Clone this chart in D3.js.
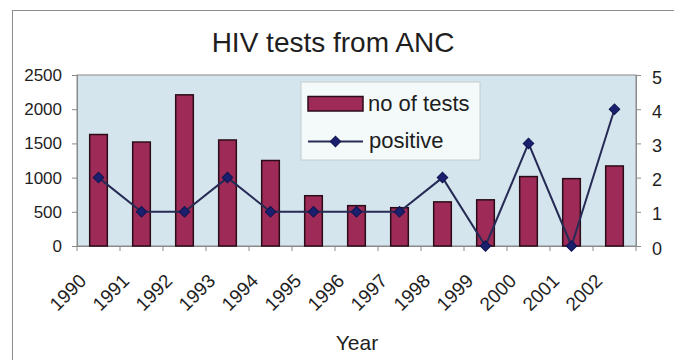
<!DOCTYPE html>
<html>
<head>
<meta charset="utf-8">
<script src="https://cdn.jsdelivr.net/npm/d3@7"></script>
<style>
  html, body { margin: 0; padding: 0; background: #ffffff; }
  svg { display: block; }
  text { font-family: Arial, "Liberation Sans", sans-serif; fill: #1e1e1e; }
</style>
</head>
<body>
<svg id="chart" width="674" height="360"></svg>
<script>
// HIV tests performed at antenatal clinics, with the number of positive results
const years = ["1990", "1991", "1992", "1993", "1994", "1995", "1996",
               "1997", "1998", "1999", "2000", "2001", "2002"];
const tests = [1630, 1520, 2210, 1550, 1250, 735, 590, 560, 645, 675, 1015, 985, 1170];
const positive = [2, 1, 1, 2, 1, 1, 1, 1, 2, 0, 3, 0, 4];
const testTicks = [0, 500, 1000, 1500, 2000, 2500];
const positiveTicks = [0, 1, 2, 3, 4, 5];

const svg = d3.select("#chart");
const plot = { left: 77, right: 636, top: 75, bottom: 246 };
const font = "Arial, 'Liberation Sans', sans-serif";

// outer chart frame
svg.append("rect")
  .attr("x", 12.5).attr("y", 10.5)
  .attr("width", 700).attr("height", 400)
  .attr("fill", "#ffffff").attr("stroke", "#8c8c8c").attr("stroke-width", 1);

// title
svg.append("text")
  .attr("x", 333).attr("y", 52)
  .attr("text-anchor", "middle")
  .style("font-size", "28px")
  .text("HIV tests from ANC");

const x = d3.scaleBand().domain(years).range([plot.left, plot.right]).padding(0);
const yL = d3.scaleLinear().domain([0, 2500]).range([plot.bottom, plot.top]);
const yR = d3.scaleLinear().domain([0, 5]).range([plot.bottom, plot.top]);
const cx = d => x(d) + x.bandwidth() / 2;
const barW = x.bandwidth() * 0.41;

// plot area
svg.append("rect")
  .attr("x", plot.left).attr("y", plot.top)
  .attr("width", plot.right - plot.left).attr("height", plot.bottom - plot.top)
  .attr("fill", "#d5e5ee").attr("stroke", "#8a8a8a").attr("stroke-width", 1);

// left axis
const leftAxis = svg.append("g")
  .attr("transform", `translate(${plot.left},0)`)
  .call(d3.axisLeft(yL).tickValues(testTicks).tickFormat(d3.format("d")).tickSize(5).tickPadding(10));
leftAxis.select(".domain").attr("stroke", "#8a8a8a");
leftAxis.selectAll(".tick line").attr("stroke", "#8a8a8a");
leftAxis.selectAll(".tick text")
  .style("font-size", "17px").style("font-family", font)
  .attr("fill", "#2a2a2a");

// right axis
const rightAxis = svg.append("g")
  .attr("transform", `translate(${plot.right},0)`)
  .call(d3.axisRight(yR).tickValues(positiveTicks).tickFormat(d3.format("d")).tickSize(5).tickPadding(11));
rightAxis.select(".domain").attr("stroke", "#8a8a8a");
rightAxis.selectAll(".tick line").attr("stroke", "#8a8a8a");
rightAxis.selectAll(".tick text")
  .style("font-size", "18px").style("font-family", font)
  .attr("fill", "#2a2a2a").attr("dy", "0.45em");

// bottom axis: ticks sit between categories
const bottom = svg.append("g");
bottom.append("line")
  .attr("x1", plot.left).attr("x2", plot.right)
  .attr("y1", plot.bottom + 0.5).attr("y2", plot.bottom + 0.5)
  .attr("stroke", "#8a8a8a");
bottom.selectAll("line.tick")
  .data(years.concat(["end"]))
  .join("line")
  .attr("class", "tick")
  .attr("x1", (d, i) => i < years.length ? x(d) : plot.right)
  .attr("x2", (d, i) => i < years.length ? x(d) : plot.right)
  .attr("y1", plot.bottom).attr("y2", plot.bottom + 5)
  .attr("stroke", "#8a8a8a");
bottom.selectAll("text")
  .data(years)
  .join("text")
  .attr("transform", d => `translate(${cx(d) - 11},282) rotate(-45)`)
  .attr("text-anchor", "end")
  .style("font-size", "19px")
  .attr("fill", "#2a2a2a")
  .text(d => d);

// axis title
svg.append("text")
  .attr("x", 357).attr("y", 350)
  .attr("text-anchor", "middle")
  .style("font-size", "21px")
  .attr("fill", "#2a2a2a")
  .text("Year");

// bars: number of tests
svg.append("g").selectAll("rect")
  .data(years)
  .join("rect")
  .attr("x", d => cx(d) - barW / 2)
  .attr("y", (d, i) => yL(tests[i]))
  .attr("width", barW)
  .attr("height", (d, i) => yL(0) - yL(tests[i]))
  .attr("fill", "#9e2a58")
  .attr("stroke", "#2b0d18")
  .attr("stroke-width", 1.5);

// line: positive results
const line = d3.line().x((d, i) => cx(years[i])).y(d => yR(d));
svg.append("path")
  .datum(positive)
  .attr("d", line)
  .attr("fill", "none")
  .attr("stroke", "#262b55")
  .attr("stroke-width", 2);

// diamond markers: a square turned 45 degrees
const marker = d3.symbol().type(d3.symbolSquare).size(56);
svg.append("g").selectAll("path")
  .data(positive)
  .join("path")
  .attr("transform", (d, i) => `translate(${cx(years[i])},${yR(d)}) rotate(45)`)
  .attr("d", marker)
  .attr("fill", "#1a1f6e")
  .attr("stroke", "#101450")
  .attr("stroke-width", 1);

// legend
const legend = svg.append("g");
legend.append("rect")
  .attr("x", 301).attr("y", 82)
  .attr("width", 179).attr("height", 78)
  .attr("fill", "#f4fafa").attr("stroke", "#c4cccc").attr("stroke-width", 1);
legend.append("rect")
  .attr("x", 308).attr("y", 96.5)
  .attr("width", 55).attr("height", 14.5)
  .attr("fill", "#9e2a58").attr("stroke", "#2b0d18").attr("stroke-width", 1.5);
legend.append("text")
  .attr("x", 368).attr("y", 111)
  .style("font-size", "22px")
  .text("no of tests");
legend.append("line")
  .attr("x1", 308).attr("x2", 363)
  .attr("y1", 141.5).attr("y2", 141.5)
  .attr("stroke", "#262b55").attr("stroke-width", 2);
legend.append("path")
  .attr("transform", "translate(335.5,141.5) rotate(45)")
  .attr("d", marker)
  .attr("fill", "#1a1f6e").attr("stroke", "#101450");
legend.append("text")
  .attr("x", 369).attr("y", 148)
  .style("font-size", "22px")
  .text("positive");
</script>
</body>
</html>
